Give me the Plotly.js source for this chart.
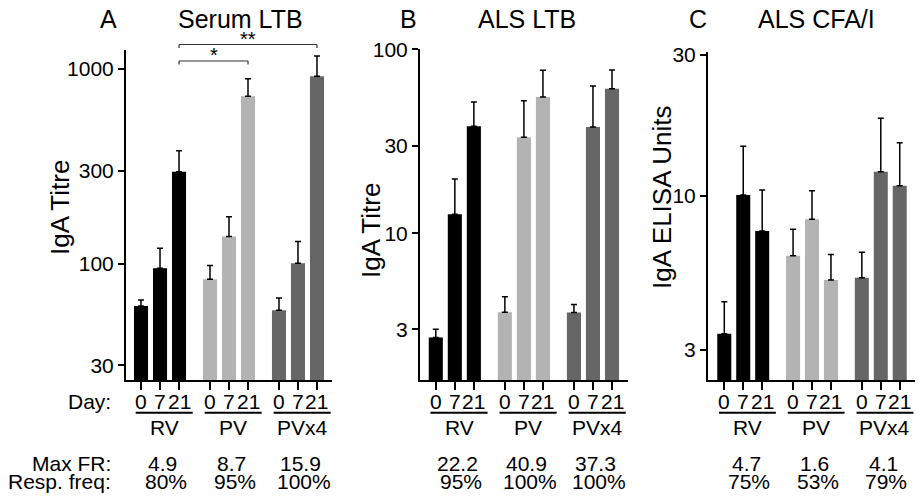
<!DOCTYPE html>
<html>
<head>
<meta charset="utf-8">
<script src="https://cdn.plot.ly/plotly-3.0.1.min.js"></script>
<style>html,body{margin:0;padding:0;background:#fff;}#chart{width:918px;height:503px;}</style>
</head>
<body>
<div id="chart"></div>
<script>
// ---------- data ----------
const groups = ['RV', 'PV', 'PVx4'];
const days = ['0', '7', '21'];
const groupColors = ['#000000', '#b3b3b3', '#666666'];

// mean values (RV d0,d7,d21, PV d0,d7,d21, PVx4 d0,d7,d21)
const serumLTB      = [60.6, 94.7, 296, 83.2, 138, 724, 57.6, 100.5, 918];
const serumLTBUpper = [65.1, 120, 380, 97.7, 174, 889, 66.7, 130, 1166];

const alsLTB        = [2.71, 12.7, 38.2, 3.72, 33.3, 55.1, 3.70, 37.8, 61.1];
const alsLTBUpper   = [3.0, 19.7, 51.8, 4.51, 52.6, 76.9, 4.10, 63.2, 77.2];

const alsCFA        = [3.40, 10.06, 7.59, 6.25, 8.32, 5.18, 5.27, 12.06, 10.8];
const alsCFAUpper   = [4.37, 14.7, 10.46, 7.69, 10.4, 6.32, 6.43, 18.3, 15.1];

const maxFR_A = ['4.9', '8.7', '15.9'];
const maxFR_B = ['22.2', '40.9', '37.3'];
const maxFR_C = ['4.7', '1.6', '4.1'];
const resp_A  = ['80%', '95%', '100%'];
const resp_B  = ['95%', '100%', '100%'];
const resp_C  = ['75%', '53%', '79%'];

const yTicksA = [30, 100, 300, 1000];
const yTicksB = [3, 10, 30, 100];
const yTicksC = [3, 10, 30];

// ---------- layout helpers ----------
const W = 918, H = 503;
const FONT = 'Liberation Sans, Arial, Helvetica, sans-serif';
const px = v => v / W;
const py = v => 1 - v / H;
const groupStep = 3.63;
const barWidth = 0.74;
const xPos = (g, d) => g * groupStep + d;

const panels = [
  {vals: serumLTB, upper: serumLTBUpper, ax: '', xdom: [126, 332], ytop: 50, yr: [1.401, 3.097], ticks: yTicksA,
   letter: 'A', letterX: 108, title: 'Serum LTB', titleX: 240, ytitle: 'IgA Titre', ytX: 60, ytY: 208,
   xr: [-0.79, 10.05], fr: maxFR_A, rf: resp_A},
  {vals: alsLTB, upper: alsLTBUpper, ax: '2', xdom: [420, 628], ytop: 49, yr: [0.200, 2.002], ticks: yTicksB,
   letter: 'B', letterX: 408, title: 'ALS LTB', titleX: 527, ytitle: 'IgA Titre', ytX: 371, ytY: 231,
   xr: [-0.83, 10.1], fr: maxFR_B, rf: resp_B},
  {vals: alsCFA, upper: alsCFAUpper, ax: '3', xdom: [708, 914.7], ytop: 52, yr: [0.374, 1.487], ticks: yTicksC,
   letter: 'C', letterX: 698, title: 'ALS CFA/I', titleX: 816, ytitle: 'IgA ELISA Units', ytX: 662, ytY: 197,
   xr: [-0.86, 10.05], fr: maxFR_C, rf: resp_C}
];

const traces = [];
const annotations = [];
const shapes = [];
const layout = {
  width: W, height: H,
  margin: {l: 0, r: 0, t: 0, b: 0},
  paper_bgcolor: '#ffffff', plot_bgcolor: 'rgba(0,0,0,0)',
  showlegend: false,
  barmode: 'overlay',
  font: {family: FONT, size: 20, color: '#000'},
  annotations: annotations,
  shapes: shapes
};

const labelFont = {size: 21, family: FONT, color: '#000'};

panels.forEach((p, pi) => {
  groups.forEach((gname, g) => {
    const xs = [], ys = [], errs = [], zeros = [];
    days.forEach((d, di) => {
      const idx = g * 3 + di;
      xs.push(xPos(g, di));
      ys.push(p.vals[idx]);
      errs.push(p.upper[idx] - p.vals[idx]);
      zeros.push(0);
    });
    traces.push({
      type: 'bar', x: xs, y: ys, width: barWidth,
      xaxis: 'x' + p.ax, yaxis: 'y' + p.ax,
      marker: {color: groupColors[g], line: {width: 0}},
      error_y: {type: 'data', symmetric: false, array: errs, arrayminus: zeros,
                color: '#000', thickness: 1.5, width: 3},
      hoverinfo: 'skip'
    });
  });

  const tickvals = [];
  groups.forEach((gname, g) => days.forEach((d, di) => tickvals.push(xPos(g, di))));

  layout['xaxis' + p.ax] = {
    domain: [px(p.xdom[0]), px(p.xdom[1])], range: p.xr, anchor: 'y' + p.ax,
    showline: true, linewidth: 2, linecolor: '#000', mirror: false,
    ticks: 'outside', ticklen: 8, tickwidth: 2, tickcolor: '#000',
    tickvals: tickvals, showticklabels: false,
    showgrid: false, zeroline: false, fixedrange: true
  };
  layout['yaxis' + p.ax] = {
    domain: [py(380.3), py(p.ytop)], type: 'log', range: p.yr, anchor: 'x' + p.ax,
    showline: true, linewidth: 2, linecolor: '#000',
    ticks: 'outside', ticklen: 6, tickwidth: 2, tickcolor: '#000',
    tickvals: p.ticks, ticktext: p.ticks.map(String), tickfont: {size: 21, family: FONT},
    showgrid: false, zeroline: false, fixedrange: true
  };

  // panel letter and title
  annotations.push({xref: 'paper', yref: 'paper', x: px(p.letterX), y: py(19), text: p.letter,
    showarrow: false, xanchor: 'center', yanchor: 'middle', font: {size: 25, family: FONT}});
  annotations.push({xref: 'paper', yref: 'paper', x: px(p.titleX), y: py(19), text: p.title,
    showarrow: false, xanchor: 'center', yanchor: 'middle', font: {size: 25, family: FONT}});
  // y axis title
  annotations.push({xref: 'paper', yref: 'paper', x: px(p.ytX), y: py(p.ytY), text: p.ytitle,
    textangle: -90, showarrow: false, xanchor: 'center', yanchor: 'middle', font: {size: 26, family: FONT}});

  groups.forEach((gname, g) => {
    // day labels under each bar
    days.forEach((d, di) => {
      annotations.push({xref: 'x' + p.ax, yref: 'paper', x: xPos(g, di), y: py(401), text: d,
        showarrow: false, xanchor: 'center', yanchor: 'middle', font: labelFont});
    });
    shapes.push({type: 'line', xref: 'x' + p.ax, yref: 'paper',
      x0: xPos(g, 0) - 0.28, x1: xPos(g, 2) + 0.72, y0: py(412.7), y1: py(412.7),
      line: {color: '#000', width: 2}});
    annotations.push({xref: 'x' + p.ax, yref: 'paper', x: xPos(g, 1) + 0.22, y: py(427), text: gname,
      showarrow: false, xanchor: 'center', yanchor: 'middle', font: labelFont});
    annotations.push({xref: 'x' + p.ax, yref: 'paper', x: xPos(g, 1) + 0.15, y: py(463), text: p.fr[g],
      showarrow: false, xanchor: 'center', yanchor: 'middle', font: labelFont});
    annotations.push({xref: 'x' + p.ax, yref: 'paper', x: xPos(g, 1) + 0.3, y: py(481.5), text: p.rf[g],
      showarrow: false, xanchor: 'center', yanchor: 'middle', font: labelFont});
  });
});

// row labels
[['Day:', 401], ['Max FR:', 463], ['Resp. freq:', 481.5]].forEach(([t, yy]) => {
  annotations.push({xref: 'paper', yref: 'paper', x: px(113), y: py(yy), text: t,
    showarrow: false, xanchor: 'right', yanchor: 'middle', font: labelFont});
});

// significance brackets (panel A): RV d21 vs PV d21 (*), RV d21 vs PVx4 d21 (**)
const brackets = [
  {from: xPos(0, 2), to: xPos(1, 2), yTop: 61, label: '*', labelY: 55},
  {from: xPos(0, 2), to: xPos(2, 2), yTop: 44.5, label: '**', labelY: 39}
];
brackets.forEach(b => {
  const c = '#333';
  shapes.push({type: 'line', xref: 'x', yref: 'paper', x0: b.from, x1: b.to, y0: py(b.yTop), y1: py(b.yTop), line: {color: c, width: 1.2}});
  shapes.push({type: 'line', xref: 'x', yref: 'paper', x0: b.from, x1: b.from, y0: py(b.yTop), y1: py(b.yTop + 3.5), line: {color: c, width: 1.2}});
  shapes.push({type: 'line', xref: 'x', yref: 'paper', x0: b.to, x1: b.to, y0: py(b.yTop), y1: py(b.yTop + 3.5), line: {color: c, width: 1.2}});
  annotations.push({xref: 'x', yref: 'paper', x: (b.from + b.to) / 2, y: py(b.labelY), text: b.label,
    showarrow: false, xanchor: 'center', yanchor: 'middle', font: {size: 20, family: FONT}});
});

Plotly.newPlot('chart', traces, layout, {staticPlot: true, displayModeBar: false});
</script>
</body>
</html>
